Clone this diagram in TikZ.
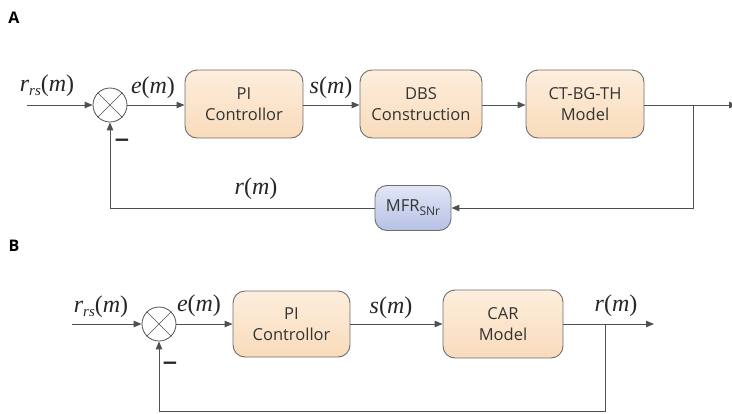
\documentclass[tikz,border=0pt]{standalone}
\usepackage{fontspec}
\setmainfont{Open Sans}
\newfontfamily\tnr{Liberation Serif}
\newfontfamily\djv{DejaVu Sans}
\usetikzlibrary{arrows.meta}
\definecolor{edge}{HTML}{6E6E6E}
\definecolor{lineC}{HTML}{505050}
\definecolor{peachT}{HTML}{FDEEDD}
\definecolor{peachB}{HTML}{F9DBBB}
\definecolor{blueT}{HTML}{E2E7F6}
\definecolor{blueB}{HTML}{B5C0E4}
\newcommand{\sig}[2]{{\tnr\fontsize{24}{24}\selectfont\itshape #1\upshape(\itshape #2\upshape)}}
\newcommand{\rrs}{{\tnr\fontsize{24}{24}\selectfont\itshape r\raisebox{-0.35ex}{\fontsize{15}{15}\selectfont rs}\upshape(\itshape m\upshape)}}
\begin{document}
\begin{tikzpicture}[x=1pt,y=-1pt,
  blockbox/.style={draw=edge, line width=0.9pt, rounded corners=12pt, top color=peachT, bottom color=peachB,
    align=center, font=\fontsize{16.5}{21}\selectfont, text=black!80, inner sep=0pt},
  mfrbox/.style={draw=edge, line width=0.9pt, rounded corners=12pt, top color=blueT, bottom color=blueB,
    align=center, font=\fontsize{16.5}{18}\selectfont, text=black!80, inner sep=0pt, minimum width=76pt, minimum height=45pt},
  sumnode/.style={circle, draw=lineC, line width=0.8pt, minimum size=34pt, inner sep=0pt, fill=white},
  conn/.style={draw=lineC, line width=1pt},
  arr/.style={conn, -{Triangle[length=8pt,width=6.5pt]}},
  lbl/.style={inner sep=0pt, text=black!85},
  panel/.style={font=\bfseries\fontsize{16}{16}\selectfont, inner sep=0pt}
]
\useasboundingbox (0,0) rectangle (732,413);

% Panel A
\node[panel] (labA) at (14,18) {A};
\coordinate (inA) at (27,105);
\node[sumnode] (sumA) at (110,105) {};
\draw[lineC, line width=0.6pt] (sumA.north east) -- (sumA.south west) (sumA.north west) -- (sumA.south east);
\node[blockbox, minimum width=118pt, minimum height=68pt] (piA) at (244,104) {PI\\Controllor};
\node[blockbox, minimum width=122pt, minimum height=68pt] (dbs) at (421,104) {DBS\\Construction};
\node[blockbox, minimum width=118pt, minimum height=68pt] (ct) at (585,104) {CT-BG-TH\\Model};
\node[mfrbox] (mfr) at (413,208) {MFR\raisebox{-0.45ex}{\fontsize{12}{12}\selectfont SNr}};
\coordinate (brA) at (693,105);
\coordinate (outA) at (737,105);

\draw[arr] (inA) -- (sumA.west);
\draw[arr] (sumA.east) -- (piA.west |- sumA.east);
\draw[arr] (piA.east |- sumA.east) -- (dbs.west |- sumA.east);
\draw[arr] (dbs.east |- sumA.east) -- (ct.west |- sumA.east);
\draw[arr] (ct.east |- sumA.east) -- (outA);
\draw[arr] (brA) |- (mfr.east);
\draw[arr] (mfr.west) -| (sumA.south);

\node[lbl] (lrA) at (47,86) {\rrs};
\node[lbl] (leA) at (153,88) {\sig{e}{m}};
\node[lbl] (lsA) at (331,88) {\sig{s}{m}};
\node[lbl] (lfA) at (256,189) {\sig{r}{m}};
\node[lbl, font=\djv\bfseries\fontsize{20}{20}\selectfont] (mA) at (122,143) {−};

% Panel B
\node[panel] (labB) at (14,246) {B};
\coordinate (inB) at (72,324);
\node[sumnode] (sumB) at (159,324) {};
\draw[lineC, line width=0.6pt] (sumB.north east) -- (sumB.south west) (sumB.north west) -- (sumB.south east);
\node[blockbox, minimum width=117pt, minimum height=66pt] (piB) at (291.5,324) {PI\\Controllor};
\node[blockbox, minimum width=120pt, minimum height=68pt] (car) at (503,324) {CAR\\Model};
\coordinate (brB) at (605,324);
\coordinate (outB) at (654,324);
\coordinate (botB) at (605,411);

\draw[arr] (inB) -- (sumB.west);
\draw[arr] (sumB.east) -- (piB.west);
\draw[arr] (piB.east) -- (car.west);
\draw[arr] (car.east) -- (outB);
\draw[arr] (brB) -- (botB) -| (sumB.south);

\node[lbl] (lrB) at (101,307) {\rrs};
\node[lbl] (leB) at (199,306) {\sig{e}{m}};
\node[lbl] (lsB) at (391,308) {\sig{s}{m}};
\node[lbl] (lfB) at (616,306) {\sig{r}{m}};
\node[lbl, font=\djv\bfseries\fontsize{20}{20}\selectfont] (mB) at (170,366) {−};
\end{tikzpicture}
\end{document}
